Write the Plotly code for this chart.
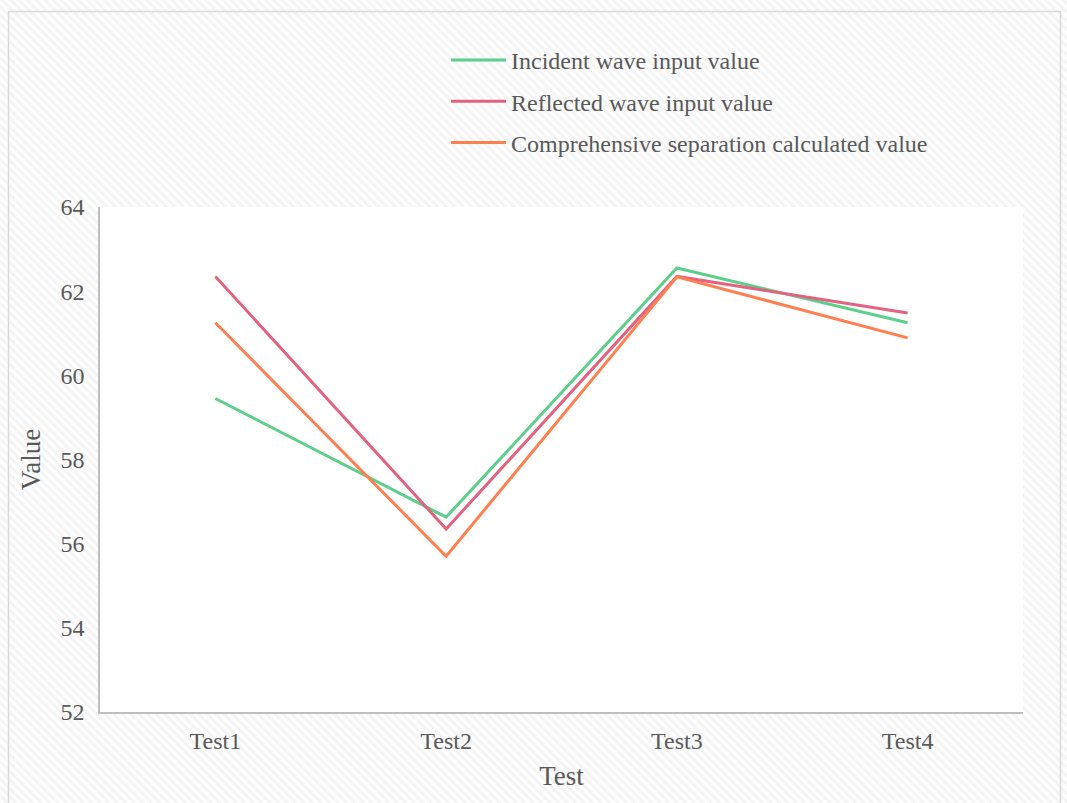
import base64
import plotly.graph_objects as go

# Data
tests = ["Test1", "Test2", "Test3", "Test4"]
incident = [59.45, 56.63, 62.55, 61.25]
reflected = [62.35, 56.35, 62.35, 61.48]
separated = [61.25, 55.70, 62.34, 60.89]

series_names = [
    "Incident wave input value",
    "Reflected wave input value",
    "Comprehensive separation calculated value",
]
series_values = [incident, reflected, separated]
series_colors = ["#5ccf8a", "#e2627f", "#ff7f50"]

y_ticks = [52, 54, 56, 58, 60, 62, 64]

# Figure geometry (px)
W, H = 1067, 803
ML, MR, MT, MB = 100, 44, 207, 91
PW, PH = W - ML - MR, H - MT - MB

FONT = "Liberation Serif, Times New Roman, serif"
TXT = "#595959"

fig = go.Figure()
for name, vals, col in zip(series_names, series_values, series_colors):
    fig.add_trace(go.Scatter(
        x=tests, y=vals, name=name, mode="lines",
        line=dict(color=col, width=3),
        legendgroup=name,
    ))

# Diagonal-stripe backdrop for the whole canvas
svg = (
    f'<svg xmlns="http://www.w3.org/2000/svg" width="{W}" height="{H}">'
    '<defs><pattern id="p" width="6" height="6" patternUnits="userSpaceOnUse" '
    'patternTransform="rotate(-45)">'
    '<rect width="6" height="6" fill="#ffffff"/>'
    '<rect width="3" height="6" fill="#f4f4f4"/></pattern></defs>'
    f'<rect width="{W}" height="{H}" fill="url(#p)"/></svg>'
)
uri = "data:image/svg+xml;base64," + base64.b64encode(svg.encode()).decode()

def px_to_paper_x(px):
    return (px - ML) / PW

def px_to_paper_y(py):
    return (H - MB - py) / PH

fig.add_layout_image(dict(
    source=uri, xref="paper", yref="paper",
    x=px_to_paper_x(0), y=px_to_paper_y(0),
    sizex=W / PW, sizey=H / PH,
    xanchor="left", yanchor="top", sizing="stretch", layer="below",
))

# White plotting region over the stripes
fig.add_shape(type="rect", xref="paper", yref="paper", x0=0, x1=1, y0=0, y1=1,
              fillcolor="white", line=dict(width=0), layer="below")

# Outer frame
fig.add_shape(type="rect", xref="paper", yref="paper",
              x0=px_to_paper_x(8.5), x1=px_to_paper_x(1060.5),
              y0=px_to_paper_y(812), y1=px_to_paper_y(11.5),
              line=dict(color="#d9d9d9", width=1.5), fillcolor="rgba(0,0,0,0)",
              layer="below")

fig.update_layout(
    width=W, height=H,
    margin=dict(l=ML, r=MR, t=MT, b=MB),
    paper_bgcolor="white",
    plot_bgcolor="rgba(0,0,0,0)",
    font=dict(family=FONT, color=TXT, size=24),
    showlegend=True,
    legend=dict(
        x=px_to_paper_x(446), y=px_to_paper_y(38),
        xanchor="left", yanchor="top",
        bgcolor="rgba(0,0,0,0)",
        font=dict(family=FONT, size=24, color=TXT),
        tracegroupgap=7,
        itemwidth=55,
    ),
    xaxis=dict(
        type="category", range=[-0.5, 3.5],
        showline=True, linecolor="#bfbfbf", linewidth=1.5,
        showgrid=False, zeroline=False,
        ticks="outside", ticklen=6, tickcolor="rgba(0,0,0,0)",
        tickfont=dict(family=FONT, size=24, color=TXT),
        title=dict(text="Test", font=dict(family=FONT, size=27, color=TXT), standoff=14),
    ),
    yaxis=dict(
        range=[52, 64], tickvals=y_ticks,
        showline=True, linecolor="#bfbfbf", linewidth=1.5,
        showgrid=False, zeroline=False,
        ticks="outside", ticklen=9, tickcolor="rgba(0,0,0,0)",
        tickfont=dict(family=FONT, size=24, color=TXT),
        title=dict(text="Value", font=dict(family=FONT, size=27, color=TXT), standoff=12),
    ),
)

fig.write_html("out.html")
